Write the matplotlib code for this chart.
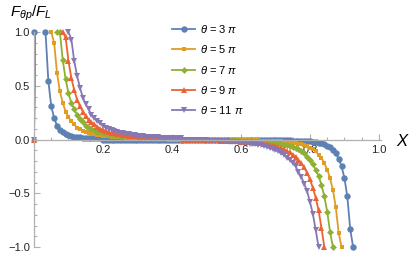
import numpy as np
import matplotlib
matplotlib.use("Agg")
import matplotlib.pyplot as plt
from matplotlib.lines import Line2D
from matplotlib.ticker import MultipleLocator

# sample positions of chi (every 1/120)
chi = np.arange(121) / 120.0

# F/F_L at each sample, 3.0 = off scale (not visible)
theta3 = [
    1.0, 3.0, 3.0, 3.0, 1.0, 0.54, 0.31, 0.20, 0.13, 0.09, 0.07, 0.05, 0.04, 0.03,
    0.02, 0.02, 0.02, 0.01, 0.01, 0.01, 0.01, 0.01, 0.01, 0.01,
    0.0, 0.0, 0.0, 0.0, 0.0, 0.0, 0.0, 0.0, 0.0, 0.0, 0.0, 0.0, 0.0, 0.0, 0.0, 0.0, 0.0, 0.0, 0.0, 0.0, 0.0, 0.0,
    0.0, 0.0, 0.0, 0.0, 0.0, 0.0, 0.0, 0.0, 0.0, 0.0, 0.0, 0.0, 0.0, 0.0, 0.0, 0.0, 0.0, 0.0, 0.0, 0.0, 0.0, 0.0,
    0.0, 0.0, 0.0, 0.0, 0.0, 0.0, 0.0, 0.0, 0.0, 0.0, 0.0, 0.0, 0.0, 0.0, 0.0, 0.0, 0.0, 0.0, 0.0, 0.0, 0.0, 0.0,
    -0.01, -0.01, -0.01, -0.01, -0.01, -0.01, -0.01,
    -0.02, -0.02, -0.03, -0.03, -0.04, -0.06, -0.07, -0.10, -0.13, -0.18, -0.25, -0.36, -0.53, -0.83, -1.0,
]
theta5 = [
    0.0, 3.0, 3.0, 3.0, 3.0, 3.0, 1.0, 0.90, 0.62, 0.45, 0.34, 0.26, 0.21, 0.17, 0.14, 0.11, 0.10, 0.08, 0.07, 0.06,
    0.05, 0.05, 0.04, 0.04, 0.03, 0.03, 0.03, 0.02, 0.02, 0.02, 0.02, 0.02,
    0.01, 0.01, 0.01, 0.01, 0.01, 0.01, 0.01, 0.01, 0.01, 0.01, 0.01, 0.01, 0.01, 0.01, 0.01,
    0.0, 0.0, 0.0, 0.0, 0.0, 0.0, 0.0, 0.0, 0.0, 0.0, 0.0, 0.0, 0.0, 0.0, 0.0, 0.0,
    0.0, 0.0, 0.0, 0.0, 0.0, 0.0, 0.0, 0.0, 0.0, 0.0, 0.0, 0.0, 0.0, 0.0, 0.0, 0.0,
    -0.01, -0.01, -0.01, -0.01, -0.01, -0.01, -0.01, -0.01, -0.02, -0.02, -0.02, -0.03, -0.03, -0.04, -0.04,
    -0.05, -0.06, -0.08, -0.09, -0.11, -0.14, -0.17, -0.22, -0.28, -0.36, -0.47, -0.63, -0.87, -1.0,
]
theta7 = [
    0.0, 3.0, 3.0, 3.0, 3.0, 3.0, 3.0, 3.0, 1.0, 1.0,
    0.74, 0.56, 0.43, 0.34, 0.28, 0.23, 0.19, 0.16, 0.13, 0.11, 0.10, 0.09,
    0.07, 0.07, 0.06, 0.05, 0.05, 0.04, 0.04, 0.03, 0.03, 0.03,
    0.02, 0.02, 0.02, 0.02, 0.02, 0.02,
    0.01, 0.01, 0.01, 0.01, 0.01, 0.01, 0.01, 0.01, 0.01, 0.01, 0.01, 0.01, 0.01,
    0.0, 0.0, 0.0, 0.0, 0.0, 0.0, 0.0, 0.0, 0.0, 0.0, 0.0, 0.0, 0.0, 0.0, 0.0, 0.0, 0.0, 0.0, 0.0, 0.0,
    -0.01, -0.01, -0.01, -0.01, -0.01, -0.01, -0.01, -0.01, -0.02, -0.02, -0.02, -0.02, -0.03, -0.03, -0.03,
    -0.04, -0.05, -0.05, -0.06, -0.07, -0.08, -0.09, -0.11, -0.13, -0.16, -0.19, -0.23, -0.28, -0.34,
    -0.42, -0.53, -0.67, -0.86, -1.0,
]
theta9 = [
    0.0, 3.0, 3.0, 3.0, 3.0, 3.0, 3.0, 3.0, 3.0, 3.0,
    1.0, 0.95, 0.73, 0.57, 0.46, 0.37, 0.31, 0.26, 0.22, 0.18, 0.16, 0.14, 0.12, 0.10, 0.09, 0.08, 0.07,
    0.06, 0.06, 0.05, 0.05, 0.04, 0.04, 0.03, 0.03, 0.03, 0.03, 0.02, 0.02, 0.02, 0.02, 0.02,
    0.01, 0.01, 0.01, 0.01, 0.01, 0.01, 0.01, 0.01, 0.01, 0.01,
    0.0, 0.0, 0.0, 0.0, 0.0, 0.0, 0.0, 0.0, 0.0, 0.0, 0.0, 0.0, 0.0,
    -0.01, -0.01, -0.01, -0.01, -0.01, -0.01, -0.01, -0.02, -0.02, -0.02, -0.02, -0.02, -0.03, -0.03, -0.03,
    -0.04, -0.04, -0.05, -0.06, -0.06, -0.07, -0.08, -0.09, -0.11, -0.12, -0.14, -0.16, -0.19, -0.22,
    -0.26, -0.31, -0.37, -0.45, -0.54, -0.66, -0.82, -1.0,
]
theta11 = [
    0.0, 3.0, 3.0, 3.0, 3.0, 3.0, 3.0, 3.0, 3.0, 3.0, 3.0, 3.0,
    1.0, 0.93, 0.73, 0.59, 0.48, 0.39, 0.33, 0.28, 0.23, 0.20, 0.17, 0.15, 0.13, 0.11, 0.10, 0.09, 0.08, 0.07,
    0.06, 0.06, 0.05, 0.05, 0.04, 0.04, 0.03, 0.03, 0.03, 0.02, 0.02, 0.02, 0.02, 0.02,
    0.01, 0.01, 0.01, 0.01, 0.01, 0.01, 0.01, 0.01,
    0.0, 0.0, 0.0, 0.0, 0.0, 0.0, 0.0, 0.0, 0.0,
    -0.01, -0.01, -0.01, -0.01, -0.01, -0.01, -0.01, -0.02, -0.02, -0.02, -0.02,
    -0.03, -0.03, -0.03, -0.04, -0.04, -0.04, -0.05, -0.05, -0.06, -0.07, -0.08, -0.09, -0.10, -0.11,
    -0.13, -0.14, -0.17, -0.19, -0.22, -0.25, -0.30, -0.35, -0.41, -0.48, -0.58, -0.69, -0.84, -1.0,
]
series = [theta3, theta5, theta7, theta9, theta11]
labels = [r'$\theta$ = 3 $\pi$', r'$\theta$ = 5 $\pi$', r'$\theta$ = 7 $\pi$',
          r'$\theta$ = 9 $\pi$', r'$\theta$ = 11 $\pi$']

colors = ['#5E81B5', '#E19C24', '#8FB032', '#EB6235', '#8778B3']
markers = ['o', 's', 'D', '^', 'v']
sizes = [4.6, 3.3, 3.5, 3.9, 3.9]


def main():
    plt.rcParams['font.family'] = ['Liberation Sans', 'DejaVu Sans']
    plt.rcParams['mathtext.fontset'] = 'custom'
    plt.rcParams['mathtext.rm'] = 'Liberation Sans'
    plt.rcParams['mathtext.it'] = 'Liberation Sans:italic'

    fig = plt.figure(figsize=(4.15, 2.61), dpi=100)
    ax = fig.add_axes([34/415, 14/261, 347/415, 215/261])

    for vals, c, mk, ms in zip(series, colors, markers, sizes):
        vals = np.array(vals)
        xs = chi[:len(vals)]
        ax.plot(xs, vals, color=c, lw=1.3)
        # markers only for points inside the plot range
        shown = np.where(np.abs(vals) <= 1.0, vals, np.nan)
        ax.plot(xs, shown, ls='none', marker=mk, ms=ms, color=c, mew=0, clip_on=False)

    ax.set_xlim(0, 1.006)
    ax.set_ylim(-1, 1)
    for s in ['top', 'right']:
        ax.spines[s].set_visible(False)
    ax.spines['left'].set_position(('data', 0))
    ax.spines['bottom'].set_position(('data', 0))
    for s in ['left', 'bottom']:
        ax.spines[s].set_color('#b0b0b0')
        ax.spines[s].set_linewidth(0.9)
    ax.set_xticks([0.2, 0.4, 0.6, 0.8, 1.0])
    ax.set_yticks([-1.0, -0.5, 0.0, 0.5, 1.0])
    ax.xaxis.set_minor_locator(MultipleLocator(0.05))
    ax.yaxis.set_minor_locator(MultipleLocator(0.1))
    ax.tick_params(which='both', direction='in', color='#b0b0b0', width=0.8,
                   labelsize=8, labelcolor='#222222')
    ax.tick_params(which='major', length=4)
    ax.tick_params(which='minor', length=2.5)
    ax.tick_params(axis='x', pad=4)
    ax.tick_params(axis='y', pad=3)

    fig.text(10/415, 1 - 13/261, r'$F_{\theta p}/F_L$', fontsize=11, va='center', ha='left')
    fig.text(396/415, 1 - 142/261, 'X', fontsize=12, style='italic', va='center', ha='left')

    handles = [Line2D([], [], color=c, lw=1.3, marker=mk, ms=ms, mew=0)
               for c, mk, ms in zip(colors, markers, sizes)]
    fig.legend(handles, labels, loc='upper left', bbox_to_anchor=(172/415, 1 - 23/261),
               frameon=False, fontsize=8, handlelength=2.1, handletextpad=0.4,
               labelspacing=0.75, borderpad=0, borderaxespad=0)

    plt.savefig('out.png')


if __name__ == '__main__':
    main()
